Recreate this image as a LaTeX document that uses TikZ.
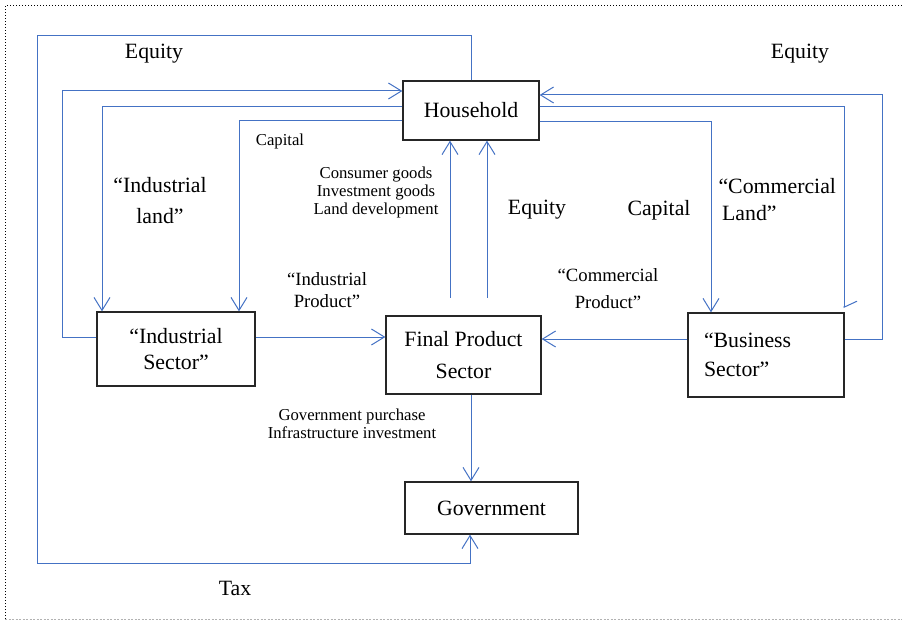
\documentclass[tikz,border=0pt]{standalone}
\usepackage{fontspec}
\setmainfont{Liberation Serif}
\usepackage{tikz}
\usetikzlibrary{arrows.meta}
\definecolor{flowblue}{RGB}{68,114,196}

\begin{document}
\begin{tikzpicture}[x=1pt,y=-1pt]
\tikzset{
box/.style={ rectangle , draw=black!85 , line width=1.3pt , inner sep=0pt ,
align=center , font=\fontsize{21.8}{31}\selectfont },
flow/.style={ draw=flowblue , line width=1pt , -{Straight Barb[length=13pt,width=16pt]} },
big/.style={ font=\fontsize{21.8}{31}\selectfont , align=center },
mid/.style={ font=\fontsize{18.7}{22}\selectfont , align=center },
small/.style={ font=\fontsize{16.7}{18}\selectfont , align=center }
}
\useasboundingbox (0,0) rectangle (902,620);

% frame
\draw[dotted, line width=1pt] (5,619) -- (5,6) -- (902,6);
\draw[black!30, dash pattern=on 2pt off 1.5pt] (5,619) -- (902,619);

% sectors
\node[box, minimum width=136pt, minimum height=59pt] (hh) at (471,110.5) {Household};
\node[box, minimum width=158pt, minimum height=74pt, font=\fontsize{21.8}{26}\selectfont] (ind) at (176,349) {“Industrial\\Sector”};
\node[box, minimum width=155pt, minimum height=78pt, font=\fontsize{21.8}{32}\selectfont] (fps) at (463.5,355) {Final Product\\Sector};
\node[box, minimum height=84pt, text width=124pt, inner xsep=16pt, align=left, font=\fontsize{21.8}{29}\selectfont] (biz) at (766,355) {“Business\\Sector”};
\node[box, minimum width=173pt, minimum height=52pt] (gov) at (491.5,508) {Government};

% flows
\draw[flow] (hh.north) |- (37,36) |- (470,563) -- (gov.south -| 470,0);
\draw[flow] (ind.west |- 0,337) -| (62,91) -- (hh.west |- 0,91);
\draw[flow] (hh.west |- 0,107) -| (ind.north -| 102,0);
\draw[flow] (hh.west |- 0,121) -| (ind.north -| 239,0);
\draw[flow] (450,298) -- (hh.south -| 450,0);
\draw[flow] (487,298) -- (hh.south -| 487,0);
\draw[flow] (biz.east |- 0,339) -| (882,95) -- (hh.east |- 0,95);
\draw[flow, -{Straight Barb[harpoon,length=6pt,width=26pt]}] (hh.east |- 0,107) -| (844,308);
\draw[flow] (hh.east |- 0,122) -| (biz.north -| 711,0);
\draw[flow] (ind.east |- 0,337) -- (fps.west |- 0,337);
\draw[flow] (biz.west |- 0,339) -- (fps.east |- 0,339);
\draw[flow] (fps.south -| 471,0) -- (gov.north -| 471,0);

% labels
\node[big] (eqleft) at (154,54) {Equity};
\node[big] (eqright) at (800,54) {Equity};
\node[small] (capleft) at (280,141) {Capital};
\node[big] (indland) at (160,201) {“Industrial\\land”};
\node[small] (goods) at (376,192) {Consumer goods\\Investment goods\\Land development};
\node[big] (eqmid) at (537,210) {Equity};
\node[big] (capright) at (659,210) {Capital};
\node[big, anchor=west, align=left, font=\fontsize{21.8}{27}\selectfont] (comland) at (715,200) {“Commercial\\\,Land”};
\node[mid] (indprod) at (327,290) {“Industrial\\Product”};
\node[mid, font=\fontsize{18.7}{27}\selectfont] (comprod) at (608,289) {“Commercial\\Product”};
\node[small] (govbuy) at (352,424) {Government purchase\\Infrastructure investment};
\node[big] (tax) at (235,588) {Tax};

\end{tikzpicture}
\end{document}
